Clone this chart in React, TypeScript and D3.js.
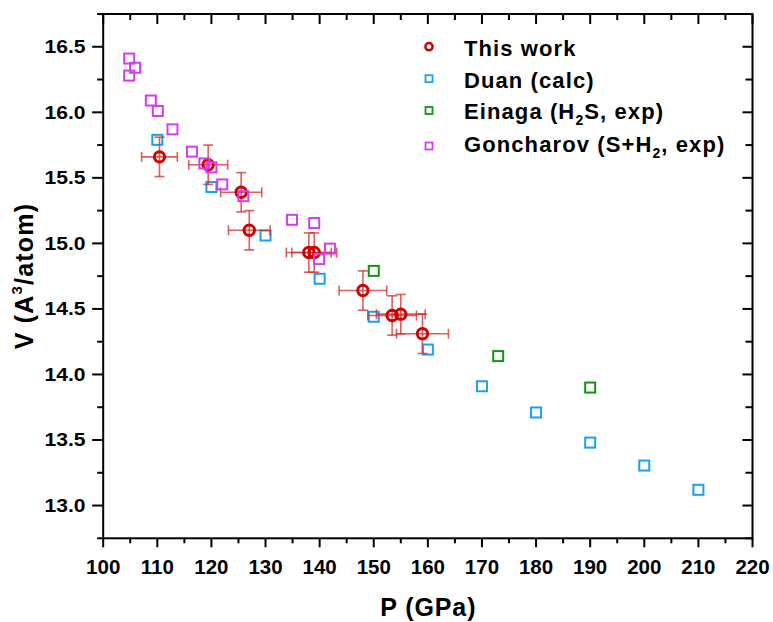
import React from "react";
import * as d3 from "d3";

// ---- data ----
const thisWorkP = [110.4, 119.4, 125.5, 127.0, 138.0, 139.0, 148.0, 153.4, 155.0, 159.0];
const thisWorkV = [15.66, 15.6, 15.39, 15.1, 14.93, 14.93, 14.64, 14.45, 14.46, 14.31];
const thisWorkPErr = [3.3, 3.6, 3.8, 3.85, 4.15, 4.15, 4.4, 4.5, 4.5, 4.8];
const thisWorkVErr = [0.15, 0.15, 0.15, 0.15, 0.15, 0.15, 0.15, 0.15, 0.15, 0.15];

const duanP = [110, 120, 130, 140, 150, 160, 170, 180, 190, 200, 210];
const duanV = [15.79, 15.43, 15.06, 14.73, 14.44, 14.19, 13.91, 13.71, 13.48, 13.305, 13.12];

const einagaP = [150, 173, 190];
const einagaV = [14.79, 14.14, 13.9];

const goncharovP = [104.8, 105.9, 104.8, 108.8, 110.1, 112.8, 116.4, 118.7, 120.0, 122.0, 125.9, 134.9, 139.0, 141.9, 139.9];
const goncharovV = [16.41, 16.34, 16.28, 16.09, 16.01, 15.87, 15.7, 15.61, 15.58, 15.45, 15.36, 15.18, 15.155, 14.96, 14.88];

const xMajorTicks = [100, 110, 120, 130, 140, 150, 160, 170, 180, 190, 200, 210, 220];
const yMajorTicks = [13.0, 13.5, 14.0, 14.5, 15.0, 15.5, 16.0, 16.5];

const RED = "#d00000";
const BLUE = "#1a9ff5";
const GREEN = "#129412";
const MAGENTA = "#d43cf2";
const FONT = "'Liberation Sans', Arial, Helvetica, sans-serif";

const W = 773;
const H = 622;
const L = 103.2, R = 752.5, T = 14, B = 538.3;

export default function App() {
  const x = d3.scaleLinear().domain([100, 220]).range([L, R]);
  const y = d3.scaleLinear().domain([12.75, 16.75]).range([B, T]);

  const xMinor = d3.range(105, 220, 10);
  const yMinor = d3.range(12.75, 16.76, 0.5);

  const sq = (px: number, py: number, s: number, color: string, sw: number, key: string) => (
    <rect key={key} x={px - s / 2} y={py - s / 2} width={s} height={s} fill="none" stroke={color} strokeWidth={sw} />
  );

  const cap = 5;
  return (
    <svg width={W} height={H} style={{ position: "absolute", left: 0, top: 0, background: "#fff" }} fontFamily={FONT}>
      <rect x={0} y={0} width={W} height={H} fill="#fff" />

      {/* Duan */}
      {duanP.map((p, i) => sq(x(p), y(duanV[i]), 10, BLUE, 2, "d" + i))}
      {/* Einaga */}
      {einagaP.map((p, i) => sq(x(p), y(einagaV[i]), 10, GREEN, 2, "e" + i))}

      {/* This work error bars */}
      <g stroke="#d42a2a" strokeOpacity={0.75} strokeWidth={1.6} fill="none">
        {thisWorkP.map((p, i) => {
          const cx = x(p), cy = y(thisWorkV[i]);
          const x0 = x(p - thisWorkPErr[i]), x1 = x(p + thisWorkPErr[i]);
          const y0 = y(thisWorkV[i] + thisWorkVErr[i]), y1 = y(thisWorkV[i] - thisWorkVErr[i]);
          return (
            <g key={"eb" + i}>
              <line x1={x0} x2={x1} y1={cy} y2={cy} />
              <line x1={x0} x2={x0} y1={cy - cap} y2={cy + cap} />
              <line x1={x1} x2={x1} y1={cy - cap} y2={cy + cap} />
              <line x1={cx} x2={cx} y1={y0} y2={y1} />
              <line x1={cx - cap} x2={cx + cap} y1={y0} y2={y0} />
              <line x1={cx - cap} x2={cx + cap} y1={y1} y2={y1} />
            </g>
          );
        })}
      </g>
      {thisWorkP.map((p, i) => (
        <circle key={"c" + i} cx={x(p)} cy={y(thisWorkV[i])} r={5.2} fill="none" stroke={RED} strokeWidth={3} />
      ))}

      {/* Goncharov */}
      {goncharovP.map((p, i) => sq(x(p), y(goncharovV[i]), 10, MAGENTA, 2, "g" + i))}

      {/* frame */}
      <rect x={L} y={T} width={R - L} height={B - T} fill="none" stroke="#000" strokeWidth={2} />

      {/* ticks */}
      <g stroke="#000" strokeWidth={2}>
        {xMajorTicks.map((t) => (
          <g key={"xt" + t}>
            <line x1={x(t)} x2={x(t)} y1={B} y2={B + 9} />
            <line x1={x(t)} x2={x(t)} y1={T} y2={T + 10} />
          </g>
        ))}
        {xMinor.map((t) => (
          <g key={"xm" + t}>
            <line x1={x(t)} x2={x(t)} y1={B} y2={B + 5} />
            <line x1={x(t)} x2={x(t)} y1={T} y2={T + 6} />
          </g>
        ))}
        {yMajorTicks.map((t) => (
          <g key={"yt" + t}>
            <line x1={L - 11} x2={L} y1={y(t)} y2={y(t)} />
            <line x1={R - 10} x2={R} y1={y(t)} y2={y(t)} />
          </g>
        ))}
        {yMinor.map((t, i) => (
          <g key={"ym" + i}>
            <line x1={L - 6} x2={L} y1={y(t)} y2={y(t)} />
            <line x1={R - 7} x2={R} y1={y(t)} y2={y(t)} />
          </g>
        ))}
      </g>

      {/* tick labels */}
      <g fontWeight="bold" fontSize={20.5} textAnchor="middle" fill="#000">
        {xMajorTicks.map((t) => (
          <text key={"xl" + t} x={x(t)} y={573.5}>{t}</text>
        ))}
      </g>
      <g fontWeight="bold" fontSize={17.5} textAnchor="end" fill="#000">
        {yMajorTicks.map((t) => (
          <text key={"yl" + t} x={85.5} y={y(t) + 6.2} textLength={41} lengthAdjust="spacingAndGlyphs">{t.toFixed(1)}</text>
        ))}
      </g>

      {/* axis titles */}
      <text x={428.3} y={616} textAnchor="middle" fontWeight="bold" fontSize={25} letterSpacing={0.9}>P (GPa)</text>
      <text transform="translate(33,276) rotate(-90)" textAnchor="middle" fontWeight="bold" fontSize={25} letterSpacing={1.2}>
        V (A<tspan fontSize={15} dy={-11}>3</tspan><tspan dy={11}>/atom)</tspan>
      </text>

      {/* legend */}
      <g fontWeight="bold" fontSize={22} letterSpacing={1.1} fill="#000">
        <circle cx={429} cy={46.7} r={3.6} fill="none" stroke={RED} strokeWidth={2.5} />
        <text x={464} y={56}>This work</text>
        {sq(429, 78.7, 7, BLUE, 1.8, "lb")}
        <text x={464} y={88}>Duan (calc)</text>
        {sq(429, 110.5, 7, GREEN, 1.8, "lg")}
        <text x={464} y={119}>Einaga (H<tspan fontSize={14} dy={6}>2</tspan><tspan dy={-6}>S, exp)</tspan></text>
        {sq(429, 146, 7, MAGENTA, 1.8, "lm")}
        <text x={464} y={152}>Goncharov (S+H<tspan fontSize={14} dy={6}>2</tspan><tspan dy={-6}>, exp)</tspan></text>
      </g>
    </svg>
  );
}
